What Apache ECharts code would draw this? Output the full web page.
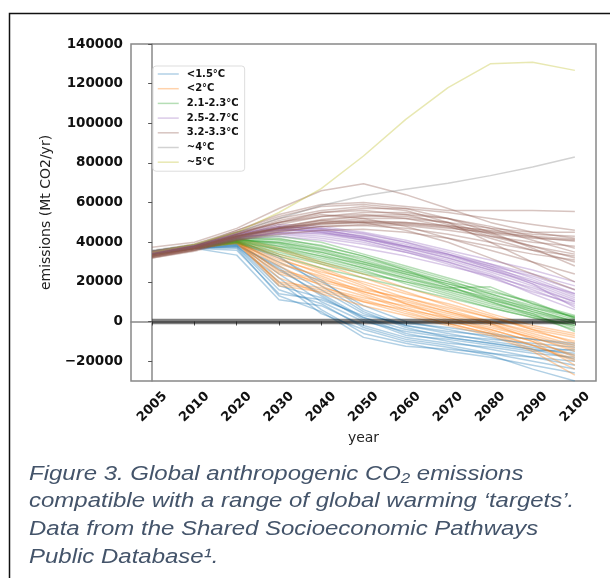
<!DOCTYPE html>
<html>
<head>
<meta charset="utf-8">
<script src="https://cdn.jsdelivr.net/npm/echarts@6/dist/echarts.min.js"></script>
<style>
  html, body { margin: 0; padding: 0; background: #fff; }
  #chart { width: 610px; height: 578px; }
</style>
</head>
<body>
<div id="chart"></div>
<script>
// x categories (equally spaced, like the original)
const years = ['2005', '2010', '2020', '2030', '2040', '2050', '2060', '2070', '2080', '2090', '2100'];
const yTicks = [-20000, 0, 20000, 40000, 60000, 80000, 100000, 120000, 140000];
const groupNames = ['<1.5°C', '<2°C', '2.1-2.3°C', '2.5-2.7°C', '3.2-3.3°C', '~4°C', '~5°C'];
const groupColors = ['#1f77b4', '#ff7f0e', '#2ca02c', '#9467bd', '#8c564b', '#7f7f7f', '#bcbd22'];

// emissions, Mt CO2/yr, one row per scenario
const blueLines = [
  [34000, 37000, 33500, 11000, 8000, -2000, -8000, -11000, -13000, -16000, -18000],
  [35000, 37500, 37000, 13000, 5000, -8000, -12500, -14000, -16000, -18000, -20000],
  [34500, 37000, 38000, 18000, 12000, 2000, -4000, -7000, -9000, -11000, -13000],
  [35500, 38000, 39000, 24000, 10000, 0, -5000, -8000, -11000, -14000, -16000],
  [34000, 37500, 38500, 28000, 16000, 4000, -2000, -5000, -7000, -9000, -11000],
  [35000, 38000, 40000, 30000, 20000, 8000, 0, -4000, -8000, -12000, -15000],
  [34500, 37500, 38000, 22000, 6000, -6000, -11000, -15000, -18000, -22000, -26000],
  [35000, 38000, 39500, 26000, 14000, 2000, -6000, -10000, -14000, -18000, -22000],
  [34000, 37000, 37500, 16000, 9000, -3000, -9000, -12000, -16000, -20000, -24000],
  [35500, 38500, 40000, 32000, 21000, 6000, -2000, -6000, -10000, -13000, -17000],
  [34500, 37500, 38500, 20000, 4000, -4000, -10000, -13000, -17000, -24000, -30000],
  [35000, 38000, 39000, 27000, 13000, 1000, -7000, -9000, -12000, -15000, -14000],
  [34000, 37000, 36000, 14000, 11000, 3000, -1000, -3000, -6000, -9000, -12000],
  [35000, 38000, 40500, 33000, 18000, 5000, -3000, -8000, -11000, -14000, -19000]
];
const orangeLines = [
  [34000, 37000, 40000, 18000, 15000, 10000, 6000, 2000, -3000, -8000, -15000],
  [35000, 38000, 41000, 25000, 20000, 15000, 10000, 5000, 0, -5000, -10000],
  [34500, 37500, 40000, 30000, 22000, 14000, 7000, 1000, -5000, -12000, -20000],
  [35500, 38500, 42000, 34000, 27000, 19000, 12000, 6000, 0, -6000, -12000],
  [34000, 37000, 39500, 20000, 17000, 12000, 8000, 3000, -2000, -8000, -14000],
  [35000, 38000, 41500, 32000, 24000, 17000, 11000, 5000, -1000, -9000, -18000],
  [34500, 37500, 40500, 28000, 18000, 10000, 4000, -1000, -6000, -14000, -24000],
  [35000, 38000, 42000, 36000, 29000, 22000, 15000, 8000, 2000, -4000, -8000],
  [34000, 37500, 40000, 26000, 21000, 16000, 12000, 7000, 2000, -3000, -7000],
  [35500, 38500, 41000, 22000, 14000, 8000, 3000, -2000, -7000, -15000, -27000],
  [34500, 37000, 41000, 33000, 26000, 18000, 9000, 2000, -4000, -10000, -17000],
  [35000, 38000, 42500, 37000, 30000, 24000, 17000, 11000, 4000, -2000, -6000],
  [34000, 37500, 39500, 24000, 19000, 13000, 6000, 0, -4000, -10000, -22000],
  [35000, 38500, 41000, 29000, 23000, 15000, 9000, 4000, -1000, -7000, -13000],
  [34500, 37500, 40500, 31000, 25000, 20000, 14000, 9000, 3000, -4000, -11000],
  [35000, 38000, 41000, 19000, 16000, 11000, 5000, -1000, -6000, -12000, -19000]
];
const greenLines = [
  [34000, 37500, 41000, 40000, 36000, 30000, 24000, 18000, 11000, 5000, 0],
  [35000, 38000, 42000, 38000, 33000, 27000, 21000, 15000, 9000, 4000, -1000],
  [34500, 37000, 40000, 35000, 30000, 25000, 20000, 14000, 8000, 3000, -3000],
  [35500, 38500, 43000, 42000, 38000, 33000, 27000, 21000, 14000, 7000, 1000],
  [34000, 37500, 41500, 39000, 34000, 28000, 22000, 17000, 17500, 9000, 2000],
  [35000, 38000, 42500, 41000, 37000, 31000, 25000, 19000, 13000, 6000, 0],
  [34500, 37500, 40500, 36000, 31000, 26000, 19000, 13000, 7000, 2000, -4000],
  [35000, 38000, 41000, 37000, 33000, 29000, 24000, 19000, 14000, 8000, 2000],
  [34000, 37000, 39500, 33000, 27000, 22000, 17000, 12000, 7000, 2000, -2000],
  [35500, 38500, 43500, 43000, 40000, 34000, 28000, 22000, 16000, 9000, 3000],
  [34500, 37500, 41000, 38000, 35000, 30000, 25000, 20000, 12000, 5000, -1000],
  [35000, 38000, 42000, 40000, 36500, 32000, 26000, 20000, 15000, 10000, 1500],
  [34000, 37500, 40000, 34000, 29000, 24000, 20000, 16000, 10000, 4000, -5000],
  [35000, 38000, 41500, 39500, 35000, 29000, 23000, 17000, 12000, 7000, 2500],
  [34500, 37500, 42000, 41500, 38500, 33000, 26000, 18000, 10000, 3000, -2000],
  [35000, 38000, 40500, 36500, 32000, 27000, 22000, 16000, 11000, 6000, 0]
];
const purpleLines = [
  [34000, 37500, 43000, 47000, 46000, 43000, 39000, 34000, 28000, 20000, 12000],
  [35000, 38000, 44000, 48000, 47000, 44000, 40000, 35000, 29000, 22000, 14000],
  [34500, 37500, 42000, 45000, 44000, 41000, 36000, 31000, 25000, 18000, 10000],
  [35000, 38000, 43500, 46000, 45000, 42000, 37000, 32000, 26000, 19000, 11000],
  [34000, 37000, 42500, 44000, 42000, 39000, 35000, 30000, 24000, 16000, 8000],
  [35500, 38500, 45000, 49000, 48000, 45000, 41000, 36000, 31000, 26000, 20000],
  [34500, 38000, 44000, 47000, 45000, 41000, 36000, 30000, 23000, 14000, 6000],
  [35000, 38000, 43000, 46000, 46000, 43000, 38000, 33000, 27000, 21000, 13000],
  [34000, 37500, 42000, 44500, 43000, 40000, 35000, 29000, 22000, 15000, 9000],
  [35000, 38500, 44500, 48000, 46500, 42500, 38000, 33500, 28000, 23000, 16000],
  [34500, 37500, 43000, 46500, 45500, 42000, 37500, 32000, 26000, 20000, 14000],
  [35000, 38000, 42500, 45000, 44500, 42000, 38000, 34000, 29000, 24000, 18000],
  [34000, 37000, 41500, 43000, 41000, 37000, 33000, 28000, 23000, 17000, 10000],
  [35500, 38500, 44000, 47500, 47000, 44500, 40000, 34000, 27000, 19000, 7000]
];
const brownLines = [
  [37500, 40000, 47000, 57000, 66000, 69500, 64000, 57000, 50000, 45000, 42000],
  [34000, 38000, 46000, 54000, 59000, 60000, 58000, 56000, 56000, 56000, 55500],
  [33000, 37000, 44000, 50000, 55000, 57000, 57000, 55000, 52000, 49000, 46000],
  [35000, 38000, 43000, 47000, 50000, 52000, 52000, 50000, 47000, 45000, 45000],
  [33000, 36500, 42000, 46000, 49500, 50000, 49000, 47000, 45000, 43000, 41500],
  [32500, 36000, 41000, 45000, 48000, 49000, 48500, 46000, 43000, 40000, 38000],
  [34000, 37500, 44000, 51000, 55000, 56000, 54000, 49000, 43000, 38000, 34000],
  [33500, 37000, 43000, 49000, 53000, 54000, 52000, 48000, 42000, 36000, 30000],
  [35500, 39000, 46000, 53000, 58000, 59000, 57000, 52000, 45000, 37000, 28000],
  [32000, 36000, 42000, 47000, 51000, 53000, 53000, 50000, 44000, 38000, 32000],
  [33000, 37000, 44000, 50000, 54000, 52000, 48000, 42000, 36000, 30000, 24000],
  [34500, 38000, 45000, 52000, 56000, 58000, 56000, 50000, 40000, 30000, 20000],
  [32500, 36000, 41500, 45500, 48000, 48500, 47000, 44000, 40000, 36000, 33000],
  [33500, 37000, 43000, 47000, 50000, 51000, 50000, 48000, 46000, 44000, 43000],
  [34000, 38000, 45000, 50000, 53000, 55000, 55000, 52000, 48000, 43000, 37000],
  [33000, 36500, 42500, 47500, 51500, 53500, 54000, 52000, 47000, 41000, 35000],
  [32000, 35500, 41000, 44000, 46000, 46500, 45000, 42000, 38000, 34000, 31000],
  [33000, 37000, 43000, 48000, 51000, 50000, 46000, 40000, 32000, 24000, 16000],
  [32500, 36500, 42500, 46500, 49000, 50000, 49500, 47500, 44500, 42000, 41000],
  [33500, 37000, 43500, 47000, 49500, 50500, 50000, 48500, 45500, 42500, 40500]
];
const grayLines = [
  [36000, 39000, 45000, 52000, 58500, 63500, 66700, 69800, 73600, 78000, 83000]
];
const oliveLines = [
  [35000, 39000, 45000, 55000, 67000, 83500, 102000, 118000, 130000, 130800, 126700]
];
const zeroLine = [0, 0];

const groups = [blueLines, orangeLines, greenLines, purpleLines, brownLines, grayLines, oliveLines];

let series = [];
groups.forEach(function(lines, g){
  lines.forEach(function(vals){
    series.push({
      name: groupNames[g],
      type: 'line',
      symbol: 'none',
      silent: true,
      data: vals.map(function(v, i){ return [i, v]; }),
      lineStyle: { color: groupColors[g], width: 1.5, opacity: 0.35 },
      itemStyle: { color: groupColors[g] }
    });
  });
});
// thick zero reference line
series.push({
  type: 'line',
  symbol: 'none',
  silent: true,
  data: [[0, zeroLine[0]], [years.length - 1, zeroLine[1]]],
  lineStyle: { color: 'rgba(0,0,0,0.5)', width: 5.5, cap: 'butt' }
});

const axisGray = '#888';
const tickFont = { fontFamily: 'DejaVu Sans', fontWeight: 'bold', fontSize: 13.5, color: '#111' };
const captionLines = [
  'Figure 3. Global anthropogenic CO₂ emissions',
  'compatible with a range of global warming ‘targets’.',
  'Data from the Shared Socioeconomic Pathways',
  'Public Database¹.'
];

let myChart = echarts.init(document.getElementById('chart'));
let option = {
  animation: false,
  backgroundColor: '#fff',
  grid: {
    left: 131, right: 14, top: 44, bottom: 197,
    show: true, borderColor: axisGray, borderWidth: 1.5
  },
  legend: {
    data: groupNames,
    orient: 'vertical',
    left: 153, top: 66,
    padding: [3, 6, 4, 4],
    itemWidth: 21, itemHeight: 10, itemGap: 4.7,
    borderColor: '#ddd', borderWidth: 1, borderRadius: 3,
    backgroundColor: 'rgba(255,255,255,0.8)',
    itemStyle: { opacity: 0 },
    lineStyle: { width: 1.5, opacity: 0.35 },
    textStyle: { fontFamily: 'DejaVu Sans', fontWeight: 'bold', fontSize: 10, color: '#111', padding: [0, 0, 0, 3] }
  },
  xAxis: {
    type: 'value',
    min: -0.5, max: 10.5,
    name: 'year', nameLocation: 'middle', nameGap: 50,
    nameTextStyle: { fontFamily: 'DejaVu Sans', fontSize: 14, color: '#222' },
    axisLine: { show: true, lineStyle: { color: axisGray, width: 1.5 } },
    axisTick: { show: true, length: 4, lineStyle: { color: '#555' }, customValues: years.map(function(y, i){ return i; }) },
    axisLabel: Object.assign({
      rotate: 45, margin: 26, align: 'center', verticalAlign: 'middle',
      customValues: years.map(function(y, i){ return i; }),
      formatter: function(v){ return years[Math.round(v)]; }
    }, tickFont, { fontSize: 13 }),
    splitLine: { show: false }
  },
  yAxis: {
    type: 'value',
    min: -30000, max: 140000,
    name: 'emissions (Mt CO2/yr)', nameLocation: 'middle', nameGap: 66,
    nameTextStyle: { fontFamily: 'DejaVu Sans', fontSize: 14, color: '#222' },
    axisLine: { show: true, lineStyle: { color: axisGray, width: 1.5 } },
    axisTick: { show: true, length: 4, lineStyle: { color: '#555' }, customValues: yTicks },
    axisLabel: Object.assign({
      margin: 8,
      customValues: yTicks,
      formatter: function(v){ return v < 0 ? '\u2212' + (-v) : String(v); }
    }, tickFont),
    splitLine: { show: false }
  },
  graphic: [
    {
      type: 'rect',
      shape: { x: 9.5, y: 13.5, width: 700, height: 700 },
      style: { fill: 'none', stroke: '#111', lineWidth: 1.5 },
      silent: true
    }
  ].concat(captionLines.map(function(t, i){
    return {
      type: 'text',
      x: 29, y: 474 + i * 27.7,
      scaleX: 1.17,
      style: {
        text: t, x: 0, y: 0,
        fontFamily: 'Liberation Sans', fontStyle: 'italic', fontSize: 20.5,
        fill: '#44546a', verticalAlign: 'middle', align: 'left'
      },
      silent: true
    };
  })),
  series: series
};
myChart.setOption(option);
</script>
</body>
</html>
